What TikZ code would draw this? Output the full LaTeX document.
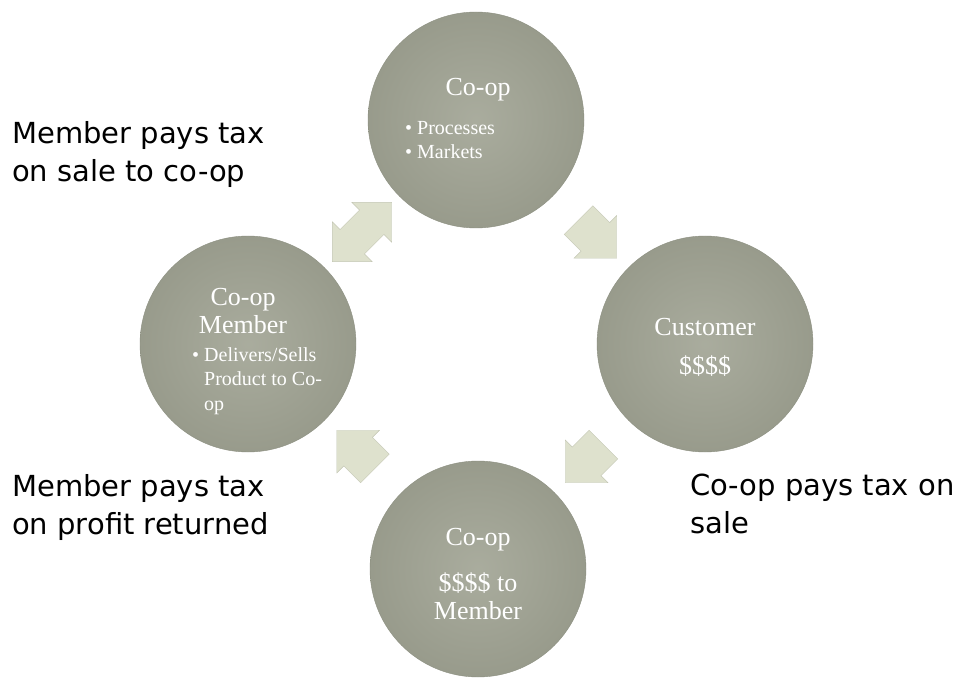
\documentclass[tikz,border=0pt]{standalone}
\usepackage{fontspec}
\setmainfont{Liberation Serif}
\newfontfamily\notefont{DejaVu Sans}
\usepackage{xcolor}
\usetikzlibrary{calc}
\usetikzlibrary{positioning}
\usetikzlibrary{shapes.arrows}
\definecolor{discfill}{RGB}{160,163,147}
\definecolor{discedge}{RGB}{140,143,128}
\definecolor{arrowfill}{RGB}{222,225,205}
\definecolor{arrowedge}{RGB}{196,199,180}

\begin{document}
\begin{tikzpicture}[x=1pt,y=-1pt,
	disc/.style={circle, draw=discedge, inner color=discfill!90!white, outer color=discfill!95!black, minimum size=216, inner sep=0pt},
	title/.style={text=white, font=\fontsize{26}{30}\selectfont, align=center},
	bullets/.style={text=white, font=\fontsize{20}{24.5}\selectfont, align=left, anchor=west, inner sep=0pt},
	flowarrow/.style={single arrow, draw=arrowedge, fill=arrowfill, minimum height=54, inner xsep=0pt, inner ysep=20, single arrow head extend=10, single arrow head indent=0pt},
	twoway/.style={double arrow, draw=arrowedge, fill=arrowfill, minimum height=84, inner xsep=0pt, inner ysep=17, double arrow head extend=11},
	note/.style={font=\notefont\fontsize{29}{38}\selectfont, align=left, anchor=north west, inner sep=0pt}]

\useasboundingbox[fill=white] (0,0) rectangle (961,679);

% the four discs
\node[disc] (coop) at (476,120) {};
\node[disc] (customer) at (705,344) {};
\node[disc] (payout) at (478,569) {};
\node[disc] (member) at (248,344) {};

% arrows between the discs
\node[twoway, rotate=45] (memberlink) at ($(member)!0.5!(coop)$) {};
\node[flowarrow, rotate=-45] (salelink) at ($(coop)!0.5!(customer)$) {};
\node[flowarrow, rotate=-135] (paylink) at ($(customer)!0.5!(payout)$) {};
\node[flowarrow, rotate=135] (returnlink) at ($(payout)!0.5!(member)$) {};

% text in the discs
\node[title] (cooptitle) at (478,90) {Co-op};
\node[bullets] (coopitems) at (405,140) {\textbullet\ Processes\\\textbullet\ Markets};

\node[title, font=\fontsize{26}{28}\selectfont] (membertitle) at (243,311) {Co-op\\Member};
\node[bullets] (memberitems) at (192,381) {\textbullet\ Delivers/Sells\\\phantom{\textbullet\ }Product to Co-\\\phantom{\textbullet\ }op};

\node[title, font=\fontsize{26}{39}\selectfont] (customertitle) at (705,347) {Customer\\\$\$\$\$};

\node[title] (payouttitle) at (478,540) {Co-op};
\node[title, font=\fontsize{26}{28}\selectfont] (payoutitems) at (478,596) {\$\$\$\$ to\\Member};

% tax notes
\node[note] (notemember) at (12,121) {Member pays tax\\on sale to co-op};
\node[note] (noteprofit) at (12,474) {Member pays tax\\on profit returned};
\node[note] (notesale) at (690,474) {Co-op pays tax on\\sale};

\end{tikzpicture}
\end{document}
